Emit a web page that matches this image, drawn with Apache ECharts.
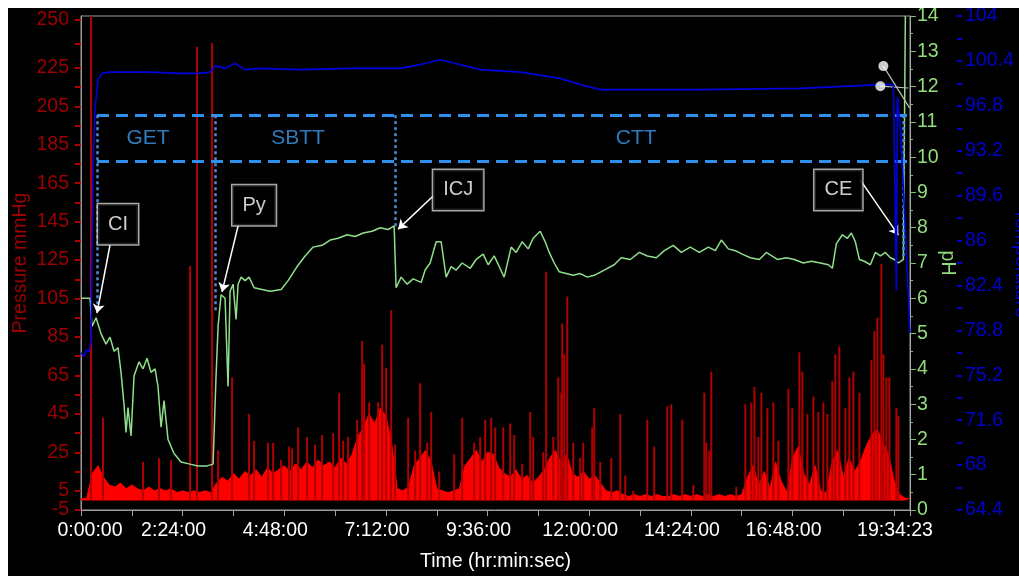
<!DOCTYPE html>
<html><head><meta charset="utf-8">
<script src="https://cdn.jsdelivr.net/npm/echarts@6/dist/echarts.min.js"></script>
<style>
html,body{margin:0;padding:0;background:#fff;width:1019px;height:576px;overflow:hidden}
#c{position:absolute;left:8px;top:8px;width:1011px;height:568px;background:#000}
</style></head><body><div id="c"></div>
<script>
const FONT = '"Liberation Sans", Arial, Helvetica, sans-serif';
// time in minutes
const timeMaxMin = 70463 / 60; // 19:34:23
const xLabelMins = [0, 144, 288, 432, 576, 720, 864, 1008, timeMaxMin];
const xTickMins = [0, 72, 144, 216, 288, 360, 432, 504, 576, 648, 720, 792, 864, 936, 1008, 1080, 1152, timeMaxMin];
const pressLabels = [5, 25, 45, 65, 85, 105, 125, 145, 165, 185, 205, 225, 250];
const pressMinLabel = [-5];
const pressTicks = [5, 15, 25, 35, 45, 55, 65, 75, 85, 95, 105, 115, 125, 135, 145, 155, 165, 175, 185, 195, 205, 215, 225, 237.5, 250];
const tempLabels = [64.4, 68, 71.6, 75.2, 78.8, 82.4, 86, 89.6, 93.2, 96.8, 100.4, 104];
const tempTicks = [64.4, 66.2, 68, 69.8, 71.6, 73.4, 75.2, 77, 78.8, 80.6, 82.4, 84.2, 86, 87.8, 89.6, 91.4, 93.2, 95, 96.8, 98.6, 100.4, 102.2, 104];

// pressure (mmHg) body: [minutes, value]
const pressureBody = [[0,1],[8,1],[16,14],[24,18],[32,12],[40,8],[48,7],[56,9],[64,6],[72,8],[80,6],[88,5],[96,7],[104,5],[112,6],[120,5],[128,6],[136,4],[144,5],[152,4],[160,5],[168,4],[176,5],[184,4],[192,9],[200,12],[208,10],[216,14],[224,11],[232,15],[240,13],[248,16],[256,12],[264,17],[272,14],[280,16],[288,18],[296,15],[304,19],[312,16],[320,20],[328,17],[336,21],[344,18],[352,20],[360,17],[368,22],[376,19],[384,24],[392,33],[400,38],[408,45],[416,40],[424,48],[432,44],[440,30],[448,6],[456,5],[464,7],[472,18],[480,22],[488,26],[496,20],[504,6],[512,5],[520,4],[528,5],[536,6],[544,18],[552,22],[560,26],[568,20],[576,25],[584,24],[592,17],[600,14],[608,12],[616,16],[624,11],[632,13],[640,9],[648,12],[656,16],[664,22],[672,26],[680,20],[688,24],[696,14],[704,12],[712,15],[720,11],[728,13],[736,9],[744,5],[752,4],[760,5],[768,3],[776,2],[784,3],[792,2],[800,3],[808,2],[816,3],[824,2],[832,2],[840,3],[848,2],[856,3],[864,2],[872,3],[880,2],[888,3],[896,2],[904,3],[912,2],[920,3],[928,2],[936,3],[944,12],[952,18],[960,8],[968,15],[976,6],[984,20],[992,10],[1000,4],[1008,22],[1016,28],[1024,14],[1032,8],[1040,18],[1048,5],[1056,4],[1064,20],[1072,26],[1080,12],[1088,22],[1096,15],[1104,20],[1112,28],[1120,34],[1128,37],[1136,30],[1144,24],[1152,10],[1160,3],[1168,1],[1174,1]];
// pressure peaks: [minutes, value]
const pressureSpikes = [[14.2,252],[31.2,43],[87.9,20],[110.5,22],[127.6,21],[154.5,122],[164.4,236],[185.7,238],[194.2,26],[214.0,64],[238.1,45],[245.2,31],[265.0,30],[272.2,30],[283.5,21],[294.8,28],[299.0,27],[307.6,38],[320.3,33],[331.6,29],[341.6,34],[357.2,35],[365.7,56],[371.3,31],[378.4,33],[391.2,42],[398.3,83],[401.1,71],[408.2,51],[420.9,51],[426.6,81],[432.3,69],[439.4,99],[445.0,29],[463.5,43],[473.4,26],[480.5,61],[490.4,30],[496.1,46],[507.4,15],[528.7,24],[540.0,43],[557.0,30],[565.5,33],[572.6,42],[581.1,43],[586.8,38],[598.1,38],[608.0,40],[613.7,34],[625.0,19],[636.4,46],[640.6,33],[654.8,25],[659.0,119],[669.0,33],[676.1,64],[680.3,56],[681.7,92],[684.6,76],[688.8,106],[697.3,30],[707.2,22],[711.5,30],[724.2,38],[727.1,48],[735.6,20],[751.2,22],[763.9,45],[771.0,13],[782.3,5],[802.2,42],[812.1,28],[830.5,49],[836.2,50],[851.8,42],[867.4,8],[883.0,56],[885.8,30],[890.1,26],[892.9,67],[928.3,7],[941.1,50],[949.6,51],[954.0,59],[959.5,33],[963.8,56],[972.3,48],[980.8,51],[987.9,31],[1002.1,58],[1007.7,48],[1017.6,77],[1021.9,67],[1029.0,45],[1037.5,54],[1044.6,46],[1051.6,51],[1057.3,45],[1064.4,62],[1068.6,76],[1074.3,80],[1082.8,48],[1088.5,64],[1094.2,67],[1102.7,56],[1119.7,73],[1123.9,88],[1128.2,95],[1133.8,123],[1136.7,76],[1140.9,64],[1145.2,64],[1155.1,48],[1157.9,44]];
// pH: [minutes, pH]
const phData = [[0,6.0],[12.8,6.0],[15.6,5.2],[21.3,5.45],[28.3,5.0],[35.4,4.7],[41.1,4.9],[46.8,4.5],[52.4,4.6],[56.7,3.9],[60.9,3.0],[63.8,2.2],[66.6,2.9],[70.9,2.1],[75.1,3.8],[82.2,4.2],[87.9,4.0],[93.5,4.3],[99.2,3.9],[104.9,4.0],[109.1,3.5],[113.4,2.35],[117.6,3.1],[123.3,2.0],[131.8,1.6],[141.7,1.36],[154.5,1.3],[165.8,1.25],[178.6,1.25],[187.1,1.3],[191.3,3.8],[194.2,5.2],[198.4,6.1],[204.1,6.0],[208.3,3.5],[211.2,6.2],[215.4,6.4],[219.7,5.4],[222.5,6.4],[226.8,6.6],[232.4,6.5],[238.1,6.6],[245.2,6.3],[256.5,6.25],[267.9,6.2],[283.5,6.25],[293.4,6.5],[306.1,6.9],[317.5,7.2],[328.8,7.45],[341.6,7.5],[352.9,7.65],[364.2,7.7],[377.0,7.8],[388.3,7.75],[399.7,7.85],[412.4,7.9],[423.8,8.0],[435.1,7.95],[443.6,8.05],[446.4,6.3],[453.5,6.6],[462.0,6.4],[470.5,6.55],[481.9,6.45],[487.5,6.8],[494.6,7.0],[503.1,7.6],[510.2,7.6],[517.3,6.6],[524.4,6.9],[531.5,6.8],[540.0,7.0],[551.3,6.85],[559.8,7.1],[569.7,7.25],[576.8,6.95],[585.3,7.2],[592.4,6.9],[599.5,6.6],[609.4,7.45],[616.5,7.3],[625.0,7.6],[633.5,7.4],[640.6,7.7],[650.5,7.9],[657.6,7.6],[663.3,7.3],[670.4,7.0],[677.5,6.75],[687.4,6.7],[697.3,6.65],[707.2,6.7],[717.2,6.6],[727.1,6.65],[741.2,6.8],[755.4,6.95],[765.3,7.15],[778.1,7.1],[790.9,7.3],[802.2,7.2],[815.0,7.15],[826.3,7.35],[839.0,7.5],[850.4,7.3],[863.1,7.45],[875.9,7.3],[888.7,7.45],[898.6,7.35],[907.1,7.65],[917.0,7.4],[926.9,7.35],[936.8,7.25],[948.2,7.15],[960.9,7.1],[970.9,7.3],[986.4,7.1],[999.2,7.15],[1010.5,7.1],[1023.3,7.0],[1034.6,7.05],[1047.4,7.0],[1058.7,6.95],[1064.4,6.85],[1070.1,7.55],[1078.6,7.8],[1085.7,7.7],[1091.3,7.85],[1097.0,7.6],[1102.7,7.1],[1109.7,7.05],[1118.2,6.95],[1125.3,7.3],[1132.4,7.2],[1139.5,7.3],[1146.6,7.15],[1152.3,7.1],[1157.9,7.0],[1165.0,7.1],[1167.8,14]];
// Temperature (°F): [minutes, value]
const tempData = [[0,77.0],[4.3,76.7],[7.1,77.2],[11.3,77.1],[14.2,78.0],[15.6,85.3],[17.0,91.7],[19.8,96.5],[24.1,98.9],[29.8,99.4],[41.1,99.5],[97.8,99.5],[140.3,99.4],[168.7,99.4],[182.8,99.5],[189.9,100.0],[204.1,99.8],[218.3,100.2],[232.4,99.7],[253.7,99.8],[310.4,99.7],[381.3,99.8],[452.1,99.8],[480.5,100.1],[508.8,100.5],[537.2,100.1],[565.5,99.7],[622.2,99.5],[678.9,99.0],[707.2,98.5],[735.6,98.1],[877.3,98.1],[1019.0,98.2],[1132.4,98.5],[1150.9,98.5],[1155.1,82.0],[1156.5,97.5],[1160.8,95.0],[1166.5,88.5],[1172.2,81.5],[1174.3,78.6]];

// phase annotations (pH axis coordinates)
const bandTop = 11.19, bandBottom = 9.89;
const phaseBounds = [22.7, 189.9, 445.0, 1165.0];
const phaseBoundEnds = [5.6, 5.6, 8.0, 7.1];
const phaseNames = ['GET', 'SBTT', 'CTT'];
const phaseNamePos = [[95, 10.55], [307.5, 10.55], [786.6, 10.55]];
const calloutNames = ['CI', 'Py', 'ICJ', 'CE'];
const calloutPos = [[52.4, 8.10], [245.2, 8.64], [534.3, 9.07], [1072.9, 9.07]];
const calloutFrom = [[41.1, 7.51], [222.5, 8.05], [498.9, 8.9], [1104.1, 9.35]];
const calloutTo = [[22.7, 5.58], [199.8, 6.18], [449.3, 7.96], [1157.9, 7.79]];
const dotPos = [[1136.7, 12.58], [1132.4, 12.01]];
const dotTo = [[1174, 11.39], [1172, 11.96]];

function pad(n){ return (n < 10 ? '0' : '') + n; }
function fmtTime(v){
  const s = Math.round(v * 60);
  const h = Math.floor(s / 3600), m = Math.floor((s % 3600) / 60), sec = s % 60;
  return h + ':' + pad(m) + ':' + pad(sec);
}

const chart = echarts.init(document.getElementById('c'), null, {renderer: 'canvas'});
const lblBase = {color: '#ffffff', fontSize: 19.5, fontFamily: FONT};

const phaseLines = [
  [{coord: [phaseBounds[0], bandTop], lineStyle: {type: [12, 7], width: 3, color: '#2e90ea'}}, {coord: [timeMaxMin, bandTop]}],
  [{coord: [phaseBounds[0], bandBottom], lineStyle: {type: [12, 7], width: 3, color: '#2e90ea'}}, {coord: [timeMaxMin, bandBottom]}]
].concat(phaseBounds.map((b, i) => [
  {coord: [b, bandTop], lineStyle: {type: [3, 3], width: 2.5, color: '#4a8cd4'}},
  {coord: [b, phaseBoundEnds[i]]}
]));

const pressAxisBase = {
  type: 'value', position: 'left', min: -5, max: 252,
  splitLine: {show: false}
};

const option = {
  backgroundColor: '#000',
  animation: false,
  grid: {left: 73, right: 109, top: 8, bottom: 66, containLabel: false, outerBoundsMode: 'none',
    show: true, borderColor: '#9a9a9a', borderWidth: 1, backgroundColor: '#000'},
  xAxis: {
    type: 'value', min: 0, max: timeMaxMin,
    axisLine: {show: true, onZero: false, lineStyle: {color: '#a0a0a0'}},
    axisTick: {show: true, length: 6, customValues: xTickMins, lineStyle: {color: '#a0a0a0'}},
    axisLabel: {
      customValues: xLabelMins, margin: 11, showMinLabel: true, showMaxLabel: true,
      formatter: v => {
        const t = fmtTime(v);
        if (v === 0) return '{f|' + t + '}';
        if (v > timeMaxMin - 0.01) return '{l|' + t + '}';
        return '{m|' + t + '}';
      },
      rich: {
        f: Object.assign({padding: [0, 0, 0, 18]}, lblBase),
        m: Object.assign({padding: [0, 18, 0, 0]}, lblBase),
        l: Object.assign({padding: [0, 30, 0, 0]}, lblBase)
      }
    },
    splitLine: {show: false},
    name: 'Time (hr:min:sec)', nameLocation: 'middle', nameGap: 42, nameMoveOverlap: false,
    nameTextStyle: {color: '#ffffff', fontSize: 19.5, fontFamily: FONT}
  },
  yAxis: [
    Object.assign({}, pressAxisBase, {
      axisLine: {show: true, onZero: false, lineStyle: {color: '#9a9a9a'}},
      axisTick: {show: true, length: 6, customValues: pressTicks, lineStyle: {color: '#b00000', width: 2}},
      axisLabel: {customValues: pressLabels, color: '#9c0000', fontSize: 19.5, margin: 12, fontFamily: FONT,
        hideOverlap: false, showMinLabel: true, showMaxLabel: true},
      name: 'Pressure mmHg', nameLocation: 'middle', nameGap: 50, nameMoveOverlap: false,
      nameTextStyle: {color: '#9c0000', fontSize: 19.5, fontFamily: FONT}
    }),
    {
      type: 'value', position: 'right', min: 0, max: 14, interval: 1,
      axisLine: {show: true, onZero: false, lineStyle: {color: '#a8a8a8'}},
      axisTick: {show: true, length: 6, lineStyle: {color: '#7fbf70'}},
      minorTick: {show: true, splitNumber: 2, length: 3, lineStyle: {color: '#7fbf70'}},
      axisLabel: {color: '#92dc7c', fontSize: 19.5, margin: 7, fontFamily: FONT, showMinLabel: true, showMaxLabel: true},
      splitLine: {show: false}, minorSplitLine: {show: false},
      name: 'pH', nameLocation: 'middle', nameGap: 27, nameRotate: -90, nameMoveOverlap: false,
      nameTextStyle: {color: '#92dc7c', fontSize: 19.5, fontFamily: FONT}
    },
    {
      type: 'value', position: 'right', offset: 47, min: 64.4, max: 104,
      axisLine: {show: true, onZero: false, lineStyle: {color: 'rgba(0,0,0,0)'}},
      axisTick: {show: true, length: 5, customValues: tempTicks, lineStyle: {color: '#0000d0', width: 2}},
      axisLabel: {customValues: tempLabels, color: '#0000d0', fontSize: 19.5, margin: 8, fontFamily: FONT,
        showMinLabel: true, showMaxLabel: true,
        formatter: v => String(+(+v).toFixed(1))},
      splitLine: {show: false},
      name: 'Temperature', nameLocation: 'middle', nameGap: 54, nameRotate: -90, nameMoveOverlap: false,
      nameTextStyle: {color: '#0000d0', fontSize: 19.5, fontFamily: FONT}
    },
    Object.assign({}, pressAxisBase, {
      axisLine: {show: true, onZero: false, lineStyle: {color: '#9a9a9a'}},
      axisTick: {show: true, length: 6, customValues: pressMinLabel, lineStyle: {color: '#b00000', width: 2}},
      axisLabel: {customValues: pressMinLabel, color: '#9c0000', fontSize: 19.5, margin: 12, fontFamily: FONT,
        showMinLabel: true}
    })
  ],
  series: [
    {
      name: 'Pressure', type: 'line', yAxisIndex: 0, data: pressureBody, symbol: 'none', z: 2,
      lineStyle: {color: '#ff0000', width: 1}, areaStyle: {color: '#ff0000', opacity: 1}
    },
    {
      name: 'Pressure peaks', type: 'bar', yAxisIndex: 0, data: pressureSpikes, barWidth: 2, z: 3,
      itemStyle: {color: '#b00000'}
    },
    {
      name: 'pH', type: 'line', yAxisIndex: 1, data: phData, symbol: 'none', z: 4,
      lineStyle: {color: '#8fe08a', width: 1.5},
      markLine: {silent: true, symbol: 'none', label: {show: false}, data: phaseLines}
    },
    {
      name: 'Temperature', type: 'line', yAxisIndex: 2, data: tempData, symbol: 'none', z: 5,
      lineStyle: {color: '#0000e0', width: 1.6}
    },
    {
      name: 'Phases', type: 'scatter', yAxisIndex: 1, z: 6, symbolSize: 1,
      itemStyle: {color: 'rgba(0,0,0,0)'},
      data: phaseNames.map((n, i) => ({name: n, value: phaseNamePos[i]})),
      label: {show: true, position: 'inside', formatter: '{b}', color: '#3b9ae8', fontSize: 21, fontFamily: FONT}
    },
    {
      name: 'Callouts', type: 'scatter', yAxisIndex: 1, z: 7, symbolSize: 1,
      itemStyle: {color: 'rgba(0,0,0,0)'},
      data: calloutNames.map((n, i) => ({name: n, value: calloutPos[i]})),
      label: {show: true, position: 'inside', formatter: '{b}', color: '#ffffff', fontSize: 20, fontFamily: FONT,
        backgroundColor: '#000', borderColor: '#cfcfcf', borderWidth: 1.5, padding: [10, 10, 10, 10], lineHeight: 20},
      markLine: {
        silent: true, symbol: ['none', 'arrow'], symbolSize: 9, label: {show: false},
        lineStyle: {color: '#ffffff', width: 1.5, type: 'solid'},
        data: calloutFrom.map((f, i) => [{coord: f}, {coord: calloutTo[i]}])
      }
    },
    {
      name: 'Markers', type: 'scatter', yAxisIndex: 1, z: 7, symbolSize: 10,
      itemStyle: {color: '#ffffff'},
      data: dotPos,
      markLine: {
        silent: true, symbol: 'none', label: {show: false},
        lineStyle: {color: '#bdbdbd', width: 1.2, type: 'solid'},
        data: dotPos.map((p, i) => [{coord: p}, {coord: dotTo[i]}])
      }
    }
  ]
};
chart.setOption(option);
</script></body></html>
